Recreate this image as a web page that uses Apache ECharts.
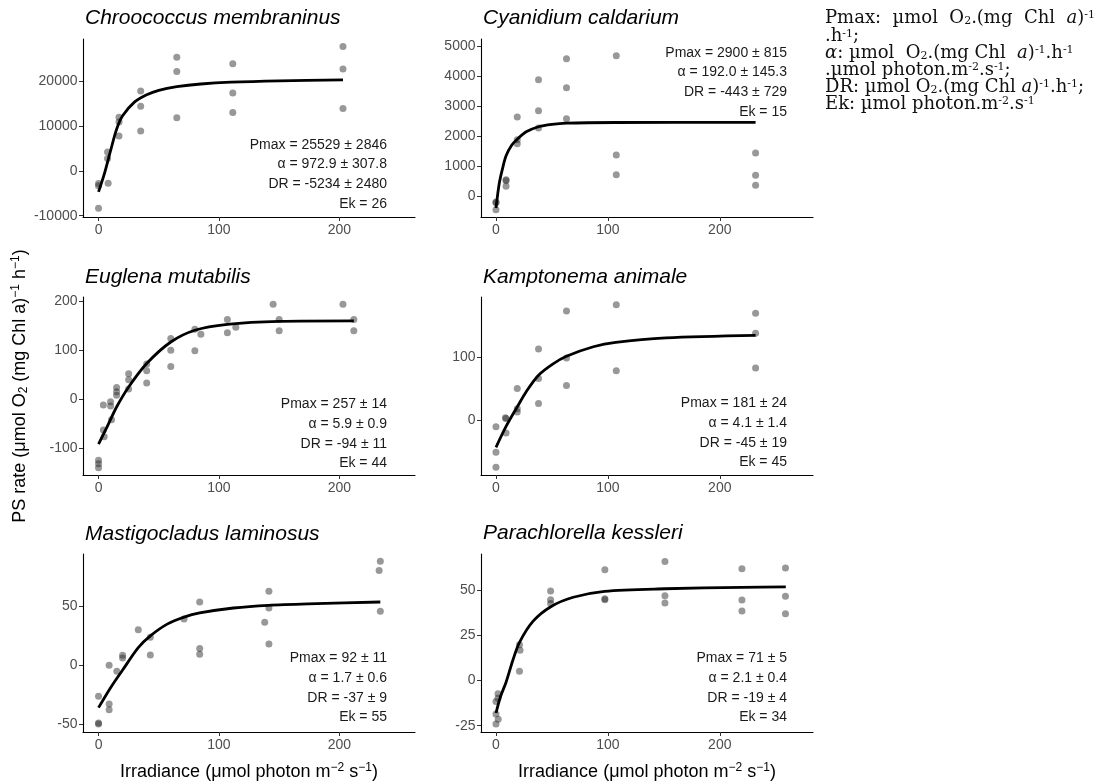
<!DOCTYPE html>
<html><head><meta charset="utf-8">
<script src="https://cdn.jsdelivr.net/npm/echarts@6/dist/echarts.min.js"></script>
<style>html,body{margin:0;padding:0;background:#fff}#c{width:1110px;height:784px}</style>
</head><body><div id="c"></div>
<script>
// ================= DATA =================
const species = ['Chroococcus membraninus','Cyanidium caldarium','Euglena mutabilis','Kamptonema animale','Mastigocladus laminosus','Parachlorella kessleri'];
const xTickValues = [0, 100, 200];

// Chroococcus membraninus
const cmI = [0,0,0,8,7.5,7.5,17,17,17,35,35,35,65,65,65,111.5,111.5,111.5,203,203,203];
const cmP = [-8370,-2800,-3300,-2740,4220,2740,12000,10890,7780,17850,14440,8890,25400,22220,11850,23930,17400,13040,27780,22740,13930];
const cmCurveI = [0,5,10,15,20,30,40,50,65,85,110,150,203];
const cmCurveP = [-4700,-500,4500,9300,12300,15400,17000,18000,18800,19400,19800,20100,20300];
const cmYTicks = [-10000,0,10000,20000];
const cmStats = ['Pmax = 25529 \u00b1 2846','\u03b1 = 972.9 \u00b1 307.8','DR = -5234 \u00b1 2480','Ek = 26'];

// Cyanidium caldarium
const ccI = [0,0,0,9,9,9,19,19,19,38,38,38,63,63,63,107.5,107.5,107.5,232,232,232];
const ccP = [-190,-210,-444,556,520,333,1889,1756,2644,3889,2856,2278,4589,3622,2589,4689,1378,722,1444,700,367];
const ccCurveI = [0,3,6,9,14,19,27,38,50,63,107,232];
const ccCurveP = [-390,450,950,1350,1700,1900,2150,2320,2400,2440,2460,2465];
const ccYTicks = [0,1000,2000,3000,4000,5000];
const ccStats = ['Pmax = 2900 \u00b1 815','\u03b1 = 192.0 \u00b1 145.3','DR = -443 \u00b1 729','Ek = 15'];

// Euglena mutabilis
const emI = [0,0,0,4,4,4.7,10,10,10.8,15,15,15,25,25,25,40,40,40,60,60,60,80,80,85,107,107,114,145,150,150,203,212,212];
const emP = [-125,-132,-140,-12,-63,-77,-5,-14,-42,24,15,8,52,40,21,72,58,33,124,100,67,143,99,133,163,136,147,194,163,140,194,163,140];
const emCurveI = [0,7,15,25,40,60,80,107,150,212];
const emCurveP = [-92,-57,-16,25,73,117,141,153,159,160];
const emYTicks = [-100,0,100,200];
const emStats = ['Pmax = 257 \u00b1 14','\u03b1 = 5.9 \u00b1 0.9','DR = -94 \u00b1 11','Ek = 44'];

// Kamptonema animale
const kaI = [0,0,0,8.4,9,9,19,19,19,38,38,38,63,63,63,107.5,107.5,232,232,232];
const kaP = [-10.5,-51,-74.7,3.7,2.6,-20.5,50,18,13,112.6,65.8,26.3,172.6,98.4,54.7,182.6,77.9,169,137.4,82.6];
const kaCurveI = [0,9,19,27,38,51,63,87,107,152,232];
const kaCurveP = [-43,-10,21,45,71,89,101,116,123,130,134];
const kaYTicks = [0,100];
const kaStats = ['Pmax = 181 \u00b1 24','\u03b1 = 4.1 \u00b1 1.4','DR = -45 \u00b1 19','Ek = 45'];

// Mastigocladus laminosus
const mlI = [0,0,0,8.8,8.8,8.8,15.2,20,20,33,43,43,71,84,84,84,138,141.5,141.5,141.5,234,233,234];
const mlP = [-26.3,-49,-50,0,-32.9,-37.7,-5.1,8.5,6.2,30.3,23.8,8.8,39.4,53.8,14.2,9.3,36.5,62.9,48.7,18.1,88.4,80.5,45.9];
const mlCurveI = [0,10,20,33,43,57,71,84,112,141,181,234];
const mlCurveP = [-36,-19,-4,15,25,35,41,44.5,48.7,51,52.4,53.8];
const mlYTicks = [-50,0,50];
const mlStats = ['Pmax = 92 \u00b1 11','\u03b1 = 1.7 \u00b1 0.6','DR = -37 \u00b1 9','Ek = 55'];

// Parachlorella kessleri
const pkI = [0,0,0,1.8,1.8,2,21,21.5,21,48.8,48.8,48.8,97.3,97.3,97.3,151,151,151,219.8,219.8,219.8,258.7,258.7,258.7];
const pkP = [-11.6,-18.6,-24.1,-7.4,-9.8,-21.4,19.7,16.6,5,49.4,44.6,42.5,61.1,45.1,44.6,65.7,46.8,42.7,61.7,44.4,38.3,62.1,46.4,36.8];
const pkCurveI = [0,4,9,15,21,33,49,69,97,151,220,259];
const pkCurveP = [-18,-9,-1,11,21,32.6,40.7,45.9,49.2,50.6,51.4,51.7];
const pkYTicks = [-25,0,25,50];
const pkStats = ['Pmax = 71 \u00b1 5','\u03b1 = 2.1 \u00b1 0.4','DR = -19 \u00b1 4','Ek = 34'];

// ================= LAYOUT =================
const panelData = [
  {I:cmI,P:cmP,cI:cmCurveI,cP:cmCurveP,yt:cmYTicks,st:cmStats},
  {I:ccI,P:ccP,cI:ccCurveI,cP:ccCurveP,yt:ccYTicks,st:ccStats},
  {I:emI,P:emP,cI:emCurveI,cP:emCurveP,yt:emYTicks,st:emStats},
  {I:kaI,P:kaP,cI:kaCurveI,cP:kaCurveP,yt:kaYTicks,st:kaStats},
  {I:mlI,P:mlP,cI:mlCurveI,cP:mlCurveP,yt:mlYTicks,st:mlStats},
  {I:pkI,P:pkP,cI:pkCurveI,cP:pkCurveP,yt:pkYTicks,st:pkStats}
];
const layout = [
  {grid:{left:83,top:39,width:332,height:178}, x:[-12.9,262.8], y:[-10300,29450], title:[85,18], stats:[387,135]},
  {grid:{left:481,top:39,width:332,height:178}, x:[-13.4,283.3], y:[-689,5244], title:[483,18], stats:[787,43]},
  {grid:{left:83,top:297,width:332,height:178}, x:[-12.9,262.8], y:[-155,209], title:[85,277], stats:[387,394.5]},
  {grid:{left:481,top:297,width:332,height:178}, x:[-13.4,283.3], y:[-86.8,194.7], title:[483,277], stats:[787,393.5]},
  {grid:{left:83,top:554,width:332,height:178}, x:[-12.9,262.8], y:[-56.7,94.6], title:[85,534], stats:[387,648.5]},
  {grid:{left:481,top:554,width:332,height:178}, x:[-13.4,283.3], y:[-28.5,69.8], title:[483,533], stats:[787,648.5]}
];

const SANS = 'Liberation Sans, Arial, Helvetica, sans-serif';
const SERIF = 'DejaVu Serif, serif';
const grids = [], xAxes = [], yAxes = [], series = [], graphics = [];
const plain = v => String(v);

layout.forEach((L, i) => {
  const d = panelData[i];
  grids.push(Object.assign({containLabel:false}, L.grid));
  const axisCommon = {
    axisLine:{show:true, onZero:false, lineStyle:{color:'#000', width:1.1}},
    splitLine:{show:false}
  };
  xAxes.push(Object.assign({}, axisCommon, {
    type:'value', gridIndex:i, min:L.x[0], max:L.x[1],
    axisTick:{show:true, length:4, lineStyle:{color:'#333'}, customValues:xTickValues},
    axisLabel:{customValues:xTickValues, formatter:plain, color:'#4d4d4d', fontSize:14, fontFamily:SANS, margin:6}
  }));
  yAxes.push(Object.assign({}, axisCommon, {
    type:'value', gridIndex:i, min:L.y[0], max:L.y[1],
    axisTick:{show:true, length:4, lineStyle:{color:'#333'}, customValues:d.yt},
    axisLabel:{customValues:d.yt, formatter:plain, color:'#4d4d4d', fontSize:14, fontFamily:SANS, margin:5.5}
  }));
  series.push({
    type:'scatter', xAxisIndex:i, yAxisIndex:i, symbol:'circle', symbolSize:7,
    itemStyle:{color:'rgba(40,40,40,0.6)'}, z:2,
    data:d.I.map((v,k)=>[v,d.P[k]])
  });
  series.push({
    type:'line', xAxisIndex:i, yAxisIndex:i, showSymbol:false, smooth:0.3,
    lineStyle:{color:'#000', width:2.8}, z:3,
    data:d.cI.map((v,k)=>[v,d.cP[k]])
  });
  graphics.push({type:'text', x:L.title[0], y:L.title[1], style:{
    text:species[i], fontSize:21, fontStyle:'italic', fontFamily:SANS, fill:'#000',
    align:'left', verticalAlign:'middle', textAlign:'left', textVerticalAlign:'middle'}});
  graphics.push({type:'text', x:L.stats[0], y:L.stats[1], style:{
    text:d.st.join('\n'), fontSize:14, lineHeight:19.7, fontFamily:SANS, fill:'#1a1a1a',
    align:'right', verticalAlign:'top', textAlign:'right', textVerticalAlign:'top'}});
});

// axis titles
const sansRich = {
  sup:{fontSize:12, fontFamily:SANS, fill:'#000', verticalAlign:'top', lineHeight:12},
  sub:{fontSize:12, fontFamily:SANS, fill:'#000', verticalAlign:'bottom', lineHeight:8}
};
const xTitle = 'Irradiance (\u03bcmol photon m{sup|\u22122} s{sup|\u22121})';
[[249,771.7],[647,771.7]].forEach(p => {
  graphics.push({type:'text', x:p[0], y:p[1], style:{
    text:xTitle, rich:sansRich, fontSize:18, lineHeight:20, fontFamily:SANS, fill:'#000',
    align:'center', verticalAlign:'middle', textAlign:'center', textVerticalAlign:'middle'}});
});
graphics.push({type:'text', x:20, y:386, rotation:Math.PI/2, style:{
  text:'PS rate (\u03bcmol O{sub|2} (mg Chl a){sup|\u22121} h{sup|\u22121})', rich:sansRich,
  fontSize:18, lineHeight:20, fontFamily:SANS, fill:'#000',
  align:'center', verticalAlign:'middle', textAlign:'center', textVerticalAlign:'middle'}});

// unit legend (serif)
const serifRich = {
  sup:{fontSize:11, fontFamily:SERIF, fill:'#111', verticalAlign:'top', lineHeight:10},
  sub:{fontSize:11, fontFamily:SERIF, fill:'#111', verticalAlign:'bottom', lineHeight:7},
  it:{fontSize:18, fontFamily:SERIF, fontStyle:'italic', fill:'#111', lineHeight:17}
};
const unitLines = [
  'Pmax:  \u00b5mol  O{sub|2}.(mg  Chl  {it|a}){sup|-1}',
  '.h{sup|-1};',
  '{it|\u03b1}: \u00b5mol  O{sub|2}.(mg Chl  {it|a}){sup|-1}.h{sup|-1}',
  '.\u00b5mol photon.m{sup|-2}.s{sup|-1};',
  'DR: \u00b5mol O{sub|2}.(mg Chl {it|a}){sup|-1}.h{sup|-1};',
  'Ek: \u00b5mol photon.m{sup|-2}.s{sup|-1}'
];
const unitY = [18.3, 36.7, 53, 70, 87, 104];
unitLines.forEach((t, k) => {
  graphics.push({type:'text', x:825, y:unitY[k], style:{
    text:t, rich:serifRich, fontSize:18, lineHeight:17, fontFamily:SERIF, fill:'#111',
    align:'left', verticalAlign:'middle', textAlign:'left', textVerticalAlign:'middle'}});
});

const chart = echarts.init(document.getElementById('c'), null, {renderer:'canvas'});
chart.setOption({
  animation:false,
  backgroundColor:'#fff',
  grid:grids, xAxis:xAxes, yAxis:yAxes, series:series,
  graphic:{elements:graphics}
});
</script></body></html>
